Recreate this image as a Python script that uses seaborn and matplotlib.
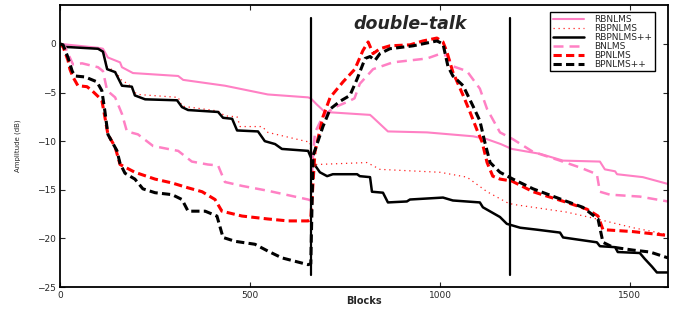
import numpy as np
import pandas as pd
import seaborn as sns
import matplotlib
matplotlib.use("Agg")
import matplotlib.pyplot as plt

# block index / amplitude (dB), one pair of lists per algorithm
rbnlms_x = [0, 100, 113, 126, 158, 163, 192, 311, 324, 434, 547, 653, 660, 675, 697,
            816, 822, 863, 966, 1087, 1124, 1160, 1189, 1263, 1324, 1421, 1434, 1461,
            1466, 1534, 1600]
rbnlms_y = [0, -0.4, -0.5, -1.4, -1.9, -2.4, -3.0, -3.3, -3.7, -4.3, -5.2, -5.5, -5.6,
            -6.2, -7.0, -7.3, -7.5, -9.0, -9.1, -9.5, -9.8, -10.3, -10.8, -11.3, -12.0,
            -12.1, -12.9, -13.1, -13.4, -13.7, -14.4]

rbpnlms_x = [0, 8, 100, 113, 124, 145, 163, 180, 197, 205, 311, 321, 416, 434, 466,
             474, 532, 547, 645, 658, 662, 676, 808, 842, 1000, 1071, 1124, 1176, 1192,
             1334, 1413, 1508, 1600]
rbpnlms_y = [0, -0.3, -0.5, -0.8, -2.4, -2.8, -3.8, -4.1, -5.0, -5.2, -5.5, -6.4, -6.9,
             -7.4, -7.5, -8.5, -8.5, -9.1, -10.0, -10.1, -12.3, -12.4, -12.2, -12.9,
             -13.2, -13.7, -15.2, -16.3, -16.5, -17.3, -18.0, -18.9, -19.6]

rbpnlmspp_x = [0, 8, 100, 113, 124, 145, 163, 189, 197, 224, 308, 321, 337, 416, 429,
               453, 466, 521, 539, 566, 584, 653, 666, 684, 703, 718, 782, 789, 816,
               821, 850, 863, 913, 921, 1008, 1034, 1105, 1113, 1158, 1176, 1211, 1255,
               1316, 1324, 1413, 1421, 1461, 1468, 1526, 1539, 1558, 1571, 1600]
rbpnlmspp_y = [0, -0.3, -0.5, -0.8, -2.6, -2.9, -4.3, -4.4, -5.3, -5.7, -5.8, -6.5,
               -6.8, -7.0, -7.6, -7.7, -8.9, -9.0, -10.0, -10.3, -10.8, -11.0, -12.2,
               -13.2, -13.6, -13.4, -13.4, -13.6, -13.7, -15.2, -15.3, -16.3, -16.2,
               -16.0, -15.8, -16.1, -16.3, -16.8, -17.8, -18.5, -18.9, -19.1, -19.4,
               -19.9, -20.4, -20.8, -20.9, -21.4, -21.5, -22.1, -22.9, -23.5, -23.5]

bnlms_x = [0, 13, 34, 58, 100, 113, 124, 145, 163, 176, 205, 245, 284, 311, 347, 389,
           416, 434, 479, 547, 653, 660, 665, 671, 690, 718, 760, 775, 789, 824, 876,
           966, 995, 1018, 1034, 1071, 1105, 1124, 1158, 1192, 1245, 1308, 1368, 1413,
           1421, 1447, 1526, 1600]
bnlms_y = [0, -0.3, -2.1, -2.0, -2.4, -2.8, -4.8, -5.5, -7.2, -9.0, -9.3, -10.5, -10.8,
           -11.0, -12.1, -12.4, -12.5, -14.2, -14.6, -15.1, -16.0, -16.1, -12.0, -9.1,
           -7.6, -6.6, -5.9, -5.6, -4.1, -2.6, -1.9, -1.5, -1.1, -1.2, -2.3, -2.8,
           -4.6, -6.7, -9.1, -9.8, -11.1, -11.9, -12.7, -13.4, -15.2, -15.5, -15.7,
           -16.2]

bpnlms_x = [0, 8, 21, 26, 34, 47, 71, 84, 100, 110, 118, 126, 145, 158, 197, 250, 295,
            337, 374, 408, 426, 479, 547, 600, 653, 660, 671, 692, 711, 745, 776, 797,
            811, 824, 842, 868, 921, 955, 992, 1008, 1018, 1034, 1061, 1079, 1097,
            1111, 1124, 1139, 1158, 1189, 1245, 1334, 1387, 1416, 1429, 1508, 1600]
bpnlms_y = [0, -0.3, -1.7, -2.6, -3.4, -4.3, -4.4, -4.8, -5.4, -5.8, -7.5, -9.3, -10.6,
            -12.4, -13.2, -13.9, -14.3, -14.8, -15.2, -16.0, -17.2, -17.7, -18.0,
            -18.2, -18.2, -18.0, -11.1, -7.5, -5.5, -3.9, -2.6, -0.7, 0.2, -1.0, -0.5,
            -0.2, -0.1, 0.3, 0.6, 0.2, -0.8, -2.9, -5.3, -7.0, -8.8, -10.1, -12.2,
            -13.6, -13.9, -14.1, -15.2, -16.3, -17.0, -17.7, -19.1, -19.3, -19.7]

bpnlmspp_x = [0, 8, 21, 32, 39, 66, 97, 110, 118, 126, 150, 158, 171, 197, 218, 250,
              295, 321, 337, 382, 413, 421, 429, 461, 513, 547, 584, 653, 660, 666, 692,
              711, 737, 763, 782, 803, 816, 829, 842, 868, 929, 992, 1008, 1021, 1034,
              1061, 1087, 1105, 1118, 1132, 1158, 1192, 1245, 1334, 1376, 1416, 1429,
              1455, 1508, 1553, 1600]
bpnlmspp_y = [0, -0.1, -1.4, -2.8, -3.3, -3.4, -3.9, -4.8, -6.9, -9.3, -11.0, -12.3,
              -13.3, -13.9, -14.9, -15.3, -15.5, -16.0, -17.2, -17.2, -17.7, -18.8,
              -19.9, -20.3, -20.6, -21.3, -22.0, -22.7, -22.6, -11.5, -8.5, -6.7, -5.9,
              -5.3, -3.6, -1.5, -1.3, -1.7, -1.0, -0.5, -0.2, 0.3, 0.0, -2.3, -3.3,
              -4.3, -6.4, -7.9, -10.1, -12.2, -13.2, -13.9, -14.9, -16.2, -16.8, -18.0,
              -20.4, -20.9, -21.2, -21.4, -22.0]

# start and end of the double-talk period
dt_blocks = [660, 1184]
dt_span = [-23.8, 2.7]

series = [
    ("RBNLMS", rbnlms_x, rbnlms_y, "#ff80c4", "-", 1.5),
    ("RBPNLMS", rbpnlms_x, rbpnlms_y, "#ff2020", (0, (1, 3)), 0.9),
    ("RBPNLMS++", rbpnlmspp_x, rbpnlmspp_y, "black", "-", 1.8),
    ("BNLMS", bnlms_x, bnlms_y, "#ff80c4", (0, (4, 2.4)), 1.8),
    ("BPNLMS", bpnlms_x, bpnlms_y, "#ff0000", (0, (2.7, 1.4)), 2.2),
    ("BPNLMS++", bpnlmspp_x, bpnlmspp_y, "black", (0, (2.7, 1.4)), 2.2),
]

sns.set_style("ticks")
plt.rcParams["font.family"] = ["DejaVu Sans"]

fig = plt.figure(figsize=(6.9, 3.11), dpi=100)
ax = fig.add_axes([0.087, 0.077, 0.881, 0.907])

for name, xs, ys, col, ls, lw in series:
    df = pd.DataFrame({"Blocks": xs, "dB": ys})
    sns.lineplot(data=df, x="Blocks", y="dB", ax=ax, color=col, linestyle=ls,
                 linewidth=lw, label=name, estimator=None, sort=False)

for b in dt_blocks:
    ax.plot([b, b], dt_span, color="black", lw=1.6, zorder=5)

ax.text(921, 2.0, "double–talk", fontsize=12.5, fontweight="bold", style="italic",
        ha="center", va="center")

ax.set_xlim(0, 1600)
ax.set_ylim(-25, 4)
ax.set_xticks([0, 500, 1000, 1500])
ax.set_yticks([-25, -20, -15, -10, -5, 0])
ax.tick_params(direction="in", top=True, right=True, length=3.5, width=0.8,
               labelsize=6.5, pad=3)
for s in ax.spines.values():
    s.set_linewidth(1.3)
    s.set_color("black")

ax.set_xlabel("Blocks", fontsize=7, fontweight="bold", va="center")
ax.xaxis.set_label_coords(0.5, -0.05)
ax.set_ylabel("Amplitude (dB)", fontsize=5, va="center")
ax.yaxis.set_label_coords(-0.069, 0.5)

leg = ax.legend(loc="upper right", bbox_to_anchor=(0.979, 0.975), borderaxespad=0,
                fontsize=6.5, labelspacing=0.0, handlelength=3.4, handletextpad=1.2,
                borderpad=0.3, fancybox=False, framealpha=1, edgecolor="black")
leg.get_frame().set_linewidth(1.0)

fig.savefig("out.png", dpi=100)
